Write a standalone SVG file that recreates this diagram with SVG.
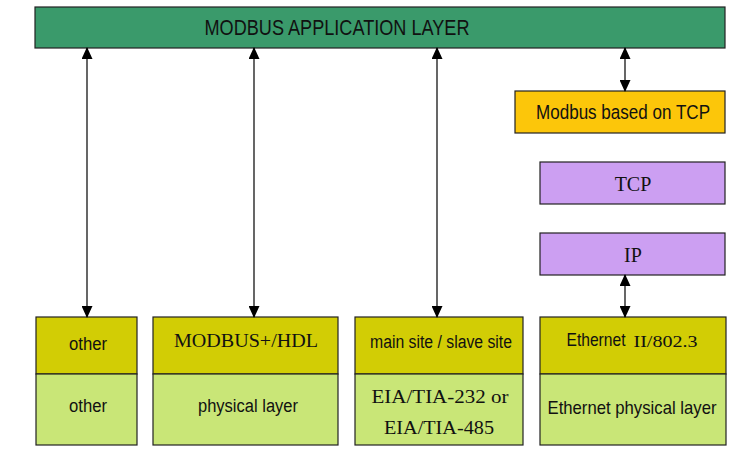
<svg xmlns="http://www.w3.org/2000/svg" width="750" height="452" viewBox="0 0 750 452">
<style>
.box{stroke:#222;stroke-width:1.2}
.app{fill:#3a9a6b}
.org{fill:#fcc60a}
.pur{fill:#cc9ff2}
.top{fill:#d2cd05}
.low{fill:#c9e677}
.sans{font-family:"Liberation Sans",Arial,sans-serif;fill:#111;text-anchor:middle}
.serif{font-family:"Liberation Serif","Times New Roman",serif;fill:#111;text-anchor:middle}
.ln{stroke:#000;stroke-width:1.2;fill:none;marker-start:url(#ah);marker-end:url(#ah)}
</style>
<defs>
<marker id="ah" viewBox="0 0 12 11" refX="11" refY="5.5" markerWidth="12" markerHeight="11" markerUnits="userSpaceOnUse" orient="auto-start-reverse">
<path d="M0,0 L12,5.5 L0,11 Z" fill="#000"/>
</marker>
</defs>
<g id="app-layer">
<rect class="box app" x="35" y="7" width="690" height="41"/>
<text class="sans" x="337" y="35" font-size="22" textLength="265" lengthAdjust="spacingAndGlyphs">MODBUS APPLICATION LAYER</text>
</g>
<g id="modbus-tcp">
<rect class="box org" x="515" y="91" width="210" height="42"/>
<text class="sans" x="623" y="119" font-size="20.5" textLength="174" lengthAdjust="spacingAndGlyphs">Modbus based on TCP</text>
</g>
<g id="tcp">
<rect class="box pur" x="540" y="162" width="185" height="42"/>
<text class="serif" x="633" y="191" font-size="20">TCP</text>
</g>
<g id="ip">
<rect class="box pur" x="540" y="233" width="185" height="42"/>
<text class="serif" x="633" y="262" font-size="20">IP</text>
</g>
<g id="col-other">
<rect class="box top" x="36" y="317" width="101" height="57"/>
<rect class="box low" x="36" y="374" width="101" height="71"/>
<text class="sans" x="88" y="350" font-size="18" textLength="38" lengthAdjust="spacingAndGlyphs">other</text>
<text class="sans" x="88" y="412" font-size="18" textLength="38" lengthAdjust="spacingAndGlyphs">other</text>
</g>
<g id="col-modbus-plus">
<rect class="box top" x="153" y="317" width="185" height="57"/>
<rect class="box low" x="153" y="374" width="185" height="71"/>
<text class="serif" x="246" y="347" font-size="18" textLength="144" lengthAdjust="spacingAndGlyphs">MODBUS+/HDL</text>
<text class="sans" x="248" y="412" font-size="18" textLength="100" lengthAdjust="spacingAndGlyphs">physical layer</text>
</g>
<g id="col-serial">
<rect class="box top" x="355" y="317" width="168" height="57"/>
<rect class="box low" x="355" y="374" width="168" height="71"/>
<text class="sans" x="441" y="348" font-size="18" textLength="142" lengthAdjust="spacingAndGlyphs">main site / slave site</text>
<text class="serif" x="440" y="403" font-size="18.5" textLength="137" lengthAdjust="spacingAndGlyphs">EIA/TIA-232 or</text>
<text class="serif" x="439" y="434" font-size="18.5" textLength="110" lengthAdjust="spacingAndGlyphs">EIA/TIA-485</text>
</g>
<g id="col-ethernet">
<rect class="box top" x="540" y="317" width="186" height="57"/>
<rect class="box low" x="540" y="374" width="186" height="71"/>
<text class="sans" x="596" y="346" font-size="18.5" textLength="59" lengthAdjust="spacingAndGlyphs">Ethernet</text>
<text class="serif" x="665.5" y="347" font-size="16.5" textLength="64" lengthAdjust="spacingAndGlyphs">II/802.3</text>
<text class="sans" x="632" y="414" font-size="19" textLength="169" lengthAdjust="spacingAndGlyphs">Ethernet physical layer</text>
</g>
<g id="connectors">
<line class="ln" x1="87" y1="48" x2="87" y2="317"/>
<line class="ln" x1="254" y1="48" x2="254" y2="317"/>
<line class="ln" x1="437" y1="48" x2="437" y2="317"/>
<line class="ln" x1="625" y1="48" x2="625" y2="91"/>
<line class="ln" x1="625" y1="275" x2="625" y2="317"/>
</g>
</svg>
